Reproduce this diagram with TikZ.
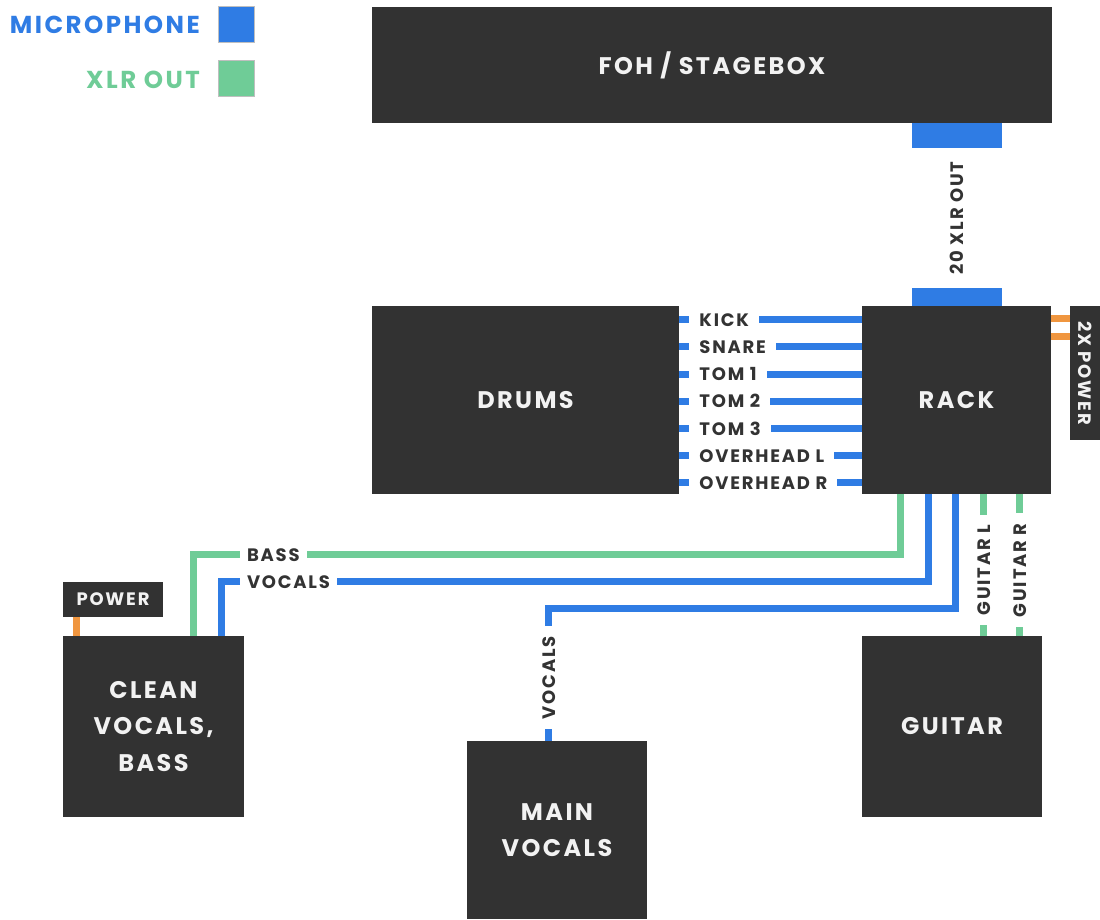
\documentclass[tikz,border=0pt]{standalone}
\usepackage{fontspec}
\setmainfont{Poppins}[LetterSpace=10]
\usetikzlibrary{calc,positioning}
\definecolor{boxgray}{HTML}{323232}
\definecolor{boxtext}{HTML}{F2F2F2}
\definecolor{tagtext}{HTML}{333333}
\definecolor{micblue}{HTML}{2F7CE4}
\definecolor{xlrgreen}{HTML}{6FCC97}
\definecolor{pwrorange}{HTML}{F0963F}
\tikzset{
  gear/.style={fill=boxgray, text=boxtext, align=center, inner sep=0pt,
    font=\fontsize{24}{36.5}\selectfont\bfseries},
  mic/.style={draw=micblue, line width=7pt},
  xlr/.style={draw=xlrgreen, line width=7pt},
  pwr/.style={draw=pwrorange, line width=7pt},
  tag/.style={fill=white, text=tagtext, inner ysep=0pt, inner xsep=10pt, minimum height=14pt,
    font=\fontsize{18}{20}\selectfont\bfseries},
  key/.style={anchor=east, inner sep=0pt, font=\fontsize{24.5}{26}\selectfont\bfseries},
  swatch/.style={minimum size=36pt, inner sep=0pt, draw=black!25, line width=0.6pt}
}
\begin{document}
\begin{tikzpicture}[x=1pt, y=-1pt]
  \useasboundingbox (0,0) rectangle (1100,919);
  % legend
  \node[key, text=micblue] (mickey) at (200,25) {MICROPHONE};
  \node[swatch, fill=micblue] (micsw) at (236,24) {};
  \node[key, text=xlrgreen] (xlrkey) at (200,80) {XLR OUT};
  \node[swatch, fill=xlrgreen] (xlrsw) at (236,78) {};

  % gear
  \node[gear, minimum width=680pt, minimum height=116pt] (foh) at (712,65) {FOH / STAGEBOX};
  \node[gear, minimum width=307pt, minimum height=188pt] (drums) at (525.5,400) {DRUMS};
  \node[gear, minimum width=189pt, minimum height=188pt] (rack) at (956.5,400) {RACK};
  \node[gear, minimum width=30pt, minimum height=134pt, font=\fontsize{18}{20}\selectfont\bfseries]
    (pwrbox) at (1085,373) {\rotatebox{-90}{2X POWER}};
  \node[gear, minimum width=181pt, minimum height=181pt] (clean) at (153.5,726.5) {CLEAN\\VOCALS,\\BASS};
  \node[gear, minimum width=100pt, minimum height=35pt, font=\fontsize{18}{20}\selectfont\bfseries]
    (power) at (113,599.5) {POWER};
  \node[gear, minimum width=180pt, minimum height=178pt] (mainv) at (557,830) {MAIN\\VOCALS};
  \node[gear, minimum width=180pt, minimum height=181pt] (guitar) at (952,726.5) {GUITAR};

  % foh link
  \node[fill=micblue, minimum width=90pt, minimum height=25pt, inner sep=0pt, anchor=north]
    (xlrtop) at (rack.north |- foh.south) {};
  \node[fill=micblue, minimum width=90pt, minimum height=18pt, inner sep=0pt, anchor=south]
    (xlrbot) at (rack.north) {};
  \node[text=tagtext, rotate=90, font=\fontsize{18}{20}\selectfont\bfseries]
    (xlrlab) at ($(xlrtop.south)!0.5!(xlrbot.north)$) {20 XLR OUT};

  % drum mics
  \foreach \lab [count=\i from 0] in {KICK,SNARE,TOM 1,TOM 2,TOM 3,OVERHEAD L,OVERHEAD R}{
    \coordinate (d\i) at ($(drums.north east)+(0,14+27.17*\i)$);
    \draw[mic] (d\i) -- (d\i -| rack.west);
    \node[tag, anchor=west] (dl\i) at ($(d\i)+(10,0)$) {\lab};
  }

  % rack power
  \foreach \dy in {13,31}{
    \coordinate (p\dy) at ($(rack.north east)+(0,\dy)$);
    \draw[pwr] (p\dy) -- (p\dy -| pwrbox.west);
  }

  % stage runs
  \coordinate (bassin) at ([xshift=131pt]clean.north west);
  \coordinate (cvin) at ([xshift=159pt]clean.north west);
  \coordinate (mvin) at ([xshift=82pt]mainv.north west);
  \draw[xlr] ([xshift=39pt]rack.south west) |- ([yshift=81pt]bassin) -- (bassin);
  \draw[mic] ([xshift=67pt]rack.south west) |- ([yshift=54pt]cvin) -- (cvin);
  \draw[mic] ([xshift=94pt]rack.south west) |- ([yshift=132pt]mvin) -- (mvin);
  \draw[xlr] ([xshift=122pt]rack.south west) -- ([xshift=122pt]guitar.north west);
  \draw[xlr] ([xshift=158pt]rack.south west) -- ([xshift=158pt]guitar.north west);
  \draw[pwr] ([xshift=14pt]clean.north west) -- ([xshift=14pt]power.south west);

  \node[tag, anchor=west, inner xsep=7pt] (basslab) at ([xshift=46pt,yshift=81pt]bassin) {BASS};
  \node[tag, anchor=west, inner xsep=7pt] (cvlab) at ([xshift=18pt,yshift=54pt]cvin) {VOCALS};
  \node[tag, rotate=90] (mvlab) at ([yshift=63pt]mvin) {VOCALS};
  \node[tag, rotate=90] (gllab) at ([xshift=122pt,yshift=-76pt]rack.south west) {GUITAR L};
  \node[tag, rotate=90] (grlab) at ([xshift=158pt,yshift=-76pt]rack.south west) {GUITAR R};
\end{tikzpicture}
\end{document}
